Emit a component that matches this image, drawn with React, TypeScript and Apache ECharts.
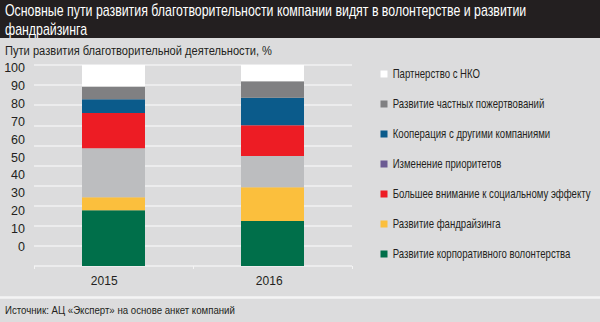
import React, { useEffect, useRef } from "react";
import * as echarts from "echarts";

const titleLines = [
  "Основные пути развития благотворительности компании видят в волонтерстве и развитии",
  "фандрайзинга",
];
const subtitle = "Пути развития благотворительной деятельности, %";
const source = "Источник: АЦ «Эксперт» на основе анкет компаний";

const categories = ["2015", "2016"];

// stacked from bottom to top
const volunteering = [27.7, 22.4];
const fundraising = [6.5, 16.8];
const unlabeled = [24.4, 15.5];
const socialEffect = [17.5, 15.3];
const priorities = [0, 0];
const cooperation = [6.9, 13.7];
const donations = [6.3, 8.2];
const ngo = [10.7, 8.1];

const legendOrder = [
  "Партнерство с НКО",
  "Развитие частных пожертвований",
  "Кооперация с другими компаниями",
  "Изменение приоритетов",
  "Большее внимание к социальному эффекту",
  "Развитие фандрайзинга",
  "Развитие корпоративного волонтерства",
];

const yMin = 0;
const yMax = 100;
const yStep = 10;

const FONT = '"Liberation Sans", Arial, sans-serif';
const INK = "#231f20";

function measure(text: string, font: string): number {
  const ctx = document.createElement("canvas").getContext("2d")!;
  ctx.font = font;
  return ctx.measureText(text).width;
}

export default function App() {
  const ref = useRef<HTMLDivElement>(null);

  useEffect(() => {
    document.body.style.margin = "0";
    const chart = echarts.init(ref.current!, null, { renderer: "svg" });

    const stackSeries = [
      { name: "Развитие корпоративного волонтерства", data: volunteering, color: "#006f4a" },
      { name: "Развитие фандрайзинга", data: fundraising, color: "#fbbf3d" },
      { name: "Прочее", data: unlabeled, color: "#bcbdbf" },
      { name: "Большее внимание к социальному эффекту", data: socialEffect, color: "#ed1c24" },
      { name: "Изменение приоритетов", data: priorities, color: "#6c5b93" },
      { name: "Кооперация с другими компаниями", data: cooperation, color: "#0b5b8b" },
      { name: "Развитие частных пожертвований", data: donations, color: "#808082" },
      { name: "Партнерство с НКО", data: ngo, color: "#ffffff" },
    ];
    const colorOf = (name: string) =>
      stackSeries.find((s) => s.name === name)?.color || "#000";

    const titleFont = `16px ${FONT}`;
    const titleScale = 522 / measure(titleLines[0], titleFont);
    const subFont = `13.5px ${FONT}`;
    const subScale = 267 / measure(subtitle, subFont);
    const srcFont = `11.5px ${FONT}`;
    const srcScale = 230 / measure(source, srcFont);
    const legFont = `12px ${FONT}`;
    const legScale = 198 / measure(legendOrder[4], legFont);

    const legendGraphics: any[] = [];
    legendOrder.forEach((name, i) => {
      const cy = 74 + i * 30;
      legendGraphics.push({
        type: "rect",
        shape: { x: 380.5, y: cy - 3.5, width: 7, height: 7 },
        style: { fill: colorOf(name) },
        silent: true,
      });
      legendGraphics.push({
        type: "text",
        x: 392.7,
        y: cy,
        scaleX: legScale,
        style: { text: name, fill: INK, font: legFont, verticalAlign: "middle" },
      });
    });

    chart.setOption({
      animation: false,
      backgroundColor: "#dcdcdd",
      textStyle: { fontFamily: FONT },
      graphic: [
        {
          type: "rect",
          shape: { x: 0, y: 0, width: 600, height: 38 },
          style: { fill: INK },
          silent: true,
        },
        {
          type: "text",
          x: 5,
          y: 10,
          scaleX: titleScale,
          style: { text: titleLines[0], fill: "#ffffff", font: titleFont, verticalAlign: "middle" },
        },
        {
          type: "text",
          x: 5,
          y: 29.5,
          scaleX: titleScale,
          style: { text: titleLines[1], fill: "#ffffff", font: titleFont, verticalAlign: "middle" },
        },
        {
          type: "text",
          x: 5,
          y: 51,
          scaleX: subScale,
          style: { text: subtitle, fill: INK, font: subFont, verticalAlign: "middle" },
        },
        {
          type: "rect",
          shape: { x: 0, y: 296.3, width: 600, height: 2.4 },
          style: { fill: "#f4f4f4" },
          silent: true,
        },
        {
          type: "text",
          x: 5,
          y: 310,
          scaleX: srcScale,
          style: { text: source, fill: INK, font: srcFont, verticalAlign: "middle" },
        },
        ...legendGraphics,
      ],
      grid: [
        { left: 34, right: 248, top: 65, bottom: 56 },
        { left: 33, right: 248, top: 68, bottom: 75 },
        { left: 21.7, right: 248.3, top: 65, bottom: 56 },
      ],
      xAxis: [
        {
          type: "category",
          gridIndex: 0,
          data: categories,
          axisLine: { show: false },
          axisTick: { show: true, lineStyle: { color: "#f4f4f4" }, length: 3 },
          axisLabel: { show: false },
        },
        { type: "category", gridIndex: 1, data: categories, show: false },
        {
          type: "category",
          gridIndex: 2,
          data: categories,
          axisLine: { show: false },
          axisTick: { show: false },
          axisLabel: { color: INK, fontSize: 12, margin: 8.5, fontFamily: FONT },
        },
      ],
      yAxis: [
        {
          type: "value",
          gridIndex: 0,
          min: yMin,
          max: yMax,
          interval: yStep,
          axisLabel: { show: false },
          axisLine: { show: false },
          axisTick: { show: false },
          splitLine: { lineStyle: { color: "#f2f2f2", width: 1.5 } },
        },
        {
          type: "value",
          gridIndex: 1,
          min: yMin,
          max: yMax,
          interval: yStep,
          axisLabel: { color: INK, fontSize: 12.5, margin: 8, fontFamily: FONT },
          axisLine: { show: false },
          axisTick: { show: false },
          splitLine: { show: false },
        },
        {
          type: "value",
          gridIndex: 2,
          min: yMin,
          max: yMax,
          show: false,
        },
      ],
      series: stackSeries.map((s) => ({
        type: "bar",
        name: s.name,
        stack: "total",
        xAxisIndex: 0,
        yAxisIndex: 0,
        barWidth: 63,
        data: s.data,
        itemStyle: { color: s.color },
      })),
    });

    return () => chart.dispose();
  }, []);

  return (
    <div
      ref={ref}
      style={{ position: "absolute", left: 0, top: 0, width: 600, height: 322 }}
    />
  );
}
